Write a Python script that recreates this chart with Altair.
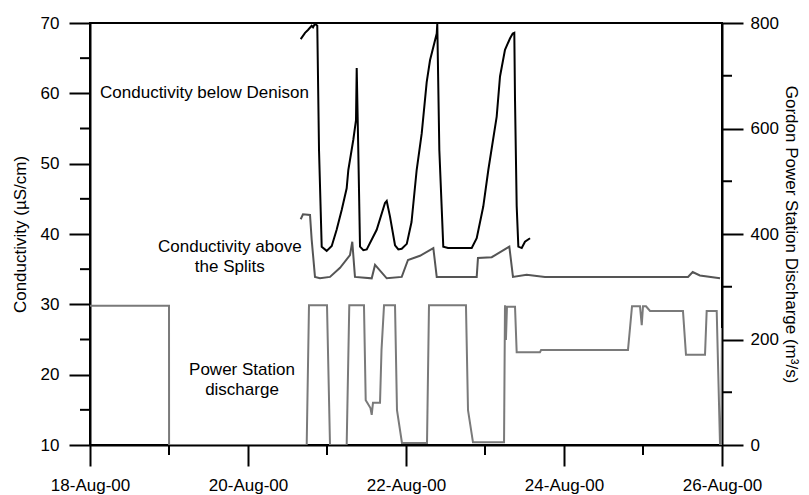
import altair as alt
import pandas as pd

# ---------------- data (day of August 2000, values) ----------------
den_day = [20.667, 20.722, 20.759, 20.806, 20.823, 20.848, 20.877, 20.899, 20.933, 20.996,
           21.06, 21.122, 21.186, 21.249, 21.27, 21.333, 21.367, 21.376, 21.396, 21.418,
           21.46, 21.503, 21.629, 21.734, 21.756, 21.797, 21.861, 21.903, 21.946, 22.01,
           22.07, 22.135, 22.199, 22.262, 22.304, 22.389, 22.396, 22.422, 22.472, 22.532,
           22.832, 22.895, 22.978, 23.042, 23.148, 23.19, 23.253, 23.316, 23.351, 23.371,
           23.38, 23.401, 23.422, 23.465, 23.506, 23.57]
den_val = [67.7, 68.6, 69.0, 69.6, 69.4, 69.9, 69.6, 51.9, 38.2, 37.6,
           38.3, 40.6, 43.4, 46.5, 49.1, 53.4, 56.2, 63.6, 51.9, 38.2,
           37.7, 37.8, 40.6, 44.4, 44.7, 42.5, 38.4, 37.8, 37.9, 38.6,
           41.7, 49.1, 54.3, 61.6, 64.7, 68.5, 69.9, 51.9, 38.2, 38.0,
           38.0, 39.4, 43.9, 49.1, 56.7, 62.4, 66.2, 67.8, 68.5, 68.6,
           59.0, 44.0, 38.2, 38.0, 38.9, 39.4]

spl_day = [20.667, 20.696, 20.785, 20.806, 20.848, 20.911, 21.038, 21.165, 21.291, 21.32,
           21.354, 21.566, 21.608, 21.756, 21.946, 22.025, 22.177, 22.346, 22.389, 22.895,
           22.911, 23.085, 23.308, 23.354, 23.527, 23.759, 25.57, 25.629, 25.72, 25.975]
spl_val = [42.1, 42.8, 42.7, 39.2, 33.9, 33.7, 33.9, 35.2, 37.0, 38.9,
           33.9, 33.7, 35.6, 33.7, 33.9, 36.3, 36.9, 38.0, 33.9, 33.9,
           36.6, 36.7, 38.2, 33.9, 34.2, 33.9, 33.9, 34.6, 34.1, 33.7]

dis_day = [18.0, 19.0, 19.001, 20.743, 20.772, 21.0, 21.038, 21.249, 21.282, 21.468,
           21.49, 21.51, 21.55, 21.566, 21.582, 21.671, 21.69, 21.722, 21.861, 21.886,
           21.949, 22.266, 22.291, 22.759, 22.785, 22.848, 23.241, 23.253, 23.265, 23.278,
           23.38, 23.401, 23.696, 23.71, 24.81, 24.861, 24.962, 24.984, 25.0, 25.038,
           25.089, 25.506, 25.544, 25.785, 25.806, 25.933, 25.975, 25.99, 26.0]
dis_val = [264, 264, 0, 0, 265, 265, 0, 0, 265, 265,
           85, 80, 70, 57, 80, 80, 180, 265, 265, 66,
           4, 4, 265, 265, 66, 5, 5, 265, 199, 262,
           262, 176, 176, 180, 180, 263, 263, 227, 263, 263,
           254, 254, 171, 171, 254, 254, 0, 0, 222]

labl_text = ["Conductivity below Denison"]
labl_day = [18.127]
labl_val = [60.05]
labc_text = ["Conductivity above\nthe Splits", "Power Station\ndischarge"]
labc_day = [19.77, 19.924]
labc_val = [38.1, 20.66]

x_major = [18, 20, 22, 24, 26]
x_minor = [19, 21, 23, 25]
left_major = [10, 20, 30, 40, 50, 60, 70]
left_minor = [15, 25, 35, 45, 55, 65]
right_major = [0, 200, 400, 600, 800]
right_minor = [100, 300, 500, 700]

FONT = "Liberation Sans"
FS = 17

den = pd.DataFrame({"day": den_day, "val": den_val})
spl = pd.DataFrame({"day": spl_day, "val": spl_val})
dis = pd.DataFrame({"day": dis_day, "q": dis_val})
labl = pd.DataFrame({"day": labl_day, "val": labl_val, "text": labl_text})
labc = pd.DataFrame({"day": labc_day, "val": labc_val, "text": labc_text})
xmin_df = pd.DataFrame({"day": x_minor})
lmin_df = pd.DataFrame({"val": left_minor})
rmin_df = pd.DataFrame({"q": right_minor})

xscale = alt.Scale(domain=[18, 26], nice=False, zero=False)
xaxis = alt.Axis(
    values=x_major, grid=False, title=None,
    labelExpr="datum.value + '-Aug-00'",
    tickSize=21, tickColor="black", tickWidth=2, domainColor="black", domainWidth=2,
    labelFont=FONT, labelFontSize=FS, labelColor="black", labelPadding=11,
    labelFlush=False, labelOverlap=False,
)
x = alt.X("day:Q", scale=xscale, axis=xaxis)

yl_scale = alt.Scale(domain=[10, 70], nice=False, zero=False)
yl_axis = alt.Axis(
    values=left_major, grid=False, title="Conductivity (µS/cm)",
    tickSize=21, tickColor="black", tickWidth=2, domainColor="black", domainWidth=2,
    labelFont=FONT, labelFontSize=FS, labelColor="black", labelPadding=10,
    titleFont=FONT, titleFontSize=FS, titleFontWeight="normal", titleColor="black",
    titlePadding=11, labelOverlap=False, labelFlush=False,
)
yl = alt.Y("val:Q", scale=yl_scale, axis=yl_axis)

yr_scale = alt.Scale(domain=[0, 800], nice=False, zero=False)
yr_axis = alt.Axis(
    values=right_major, grid=False, orient="right",
    title="Gordon Power Station Discharge (m³/s)",
    tickSize=21, tickColor="black", tickWidth=2, domainColor="black", domainWidth=2,
    labelFont=FONT, labelFontSize=FS, labelColor="black", labelPadding=7,
    titleFont=FONT, titleFontSize=FS, titleFontWeight="normal", titleColor="black",
    titlePadding=3, labelOverlap=False, labelFlush=False,
)
yr = alt.Y("q:Q", scale=yr_scale, axis=yr_axis)

den_line = alt.Chart(den).mark_line(color="black", strokeWidth=2, clip=True).encode(
    x=x, y=yl, order="day:Q")
spl_line = alt.Chart(spl).mark_line(color="#555555", strokeWidth=2, clip=True).encode(
    x=x, y=yl, order="day:Q")
text_l = alt.Chart(labl).mark_text(
    font=FONT, fontSize=FS, color="black", baseline="middle", align="left",
    lineBreak="\n", lineHeight=20
).encode(x=x, y=yl, text="text:N")
text_c = alt.Chart(labc).mark_text(
    font=FONT, fontSize=FS, color="black", baseline="middle", align="center",
    lineBreak="\n", lineHeight=20
).encode(x=x, y=yl, text="text:N")

# minor ticks (half-length), positioned by the scales
xminor = alt.Chart(xmin_df).mark_rule(color="black", strokeWidth=2).encode(
    x=x, y=alt.value(422), y2=alt.value(432))
lminor = alt.Chart(lmin_df).mark_rule(color="black", strokeWidth=2).encode(
    y=yl, x=alt.value(0), x2=alt.value(-10))

left = alt.layer(spl_line, den_line, text_l, text_c, xminor, lminor)

dis_line = alt.Chart(dis).mark_line(color="#7a7a7a", strokeWidth=2, clip=True).encode(
    x=x, y=yr, order="day:Q")
rminor = alt.Chart(rmin_df).mark_rule(color="black", strokeWidth=2).encode(
    y=yr, x=alt.value(632), x2=alt.value(642))

right = alt.layer(dis_line, rminor)

chart = alt.layer(left, right).resolve_scale(y="independent").resolve_axis(y="independent").properties(
    width=632, height=422,
    autosize=alt.AutoSizeParams(type="none"),
    padding={"left": 82, "top": 15, "right": 79, "bottom": 49},
    background="white",
).configure_view(stroke="black", strokeWidth=2)

chart.save("out.html", embed_options={"renderer": "svg", "actions": False})
